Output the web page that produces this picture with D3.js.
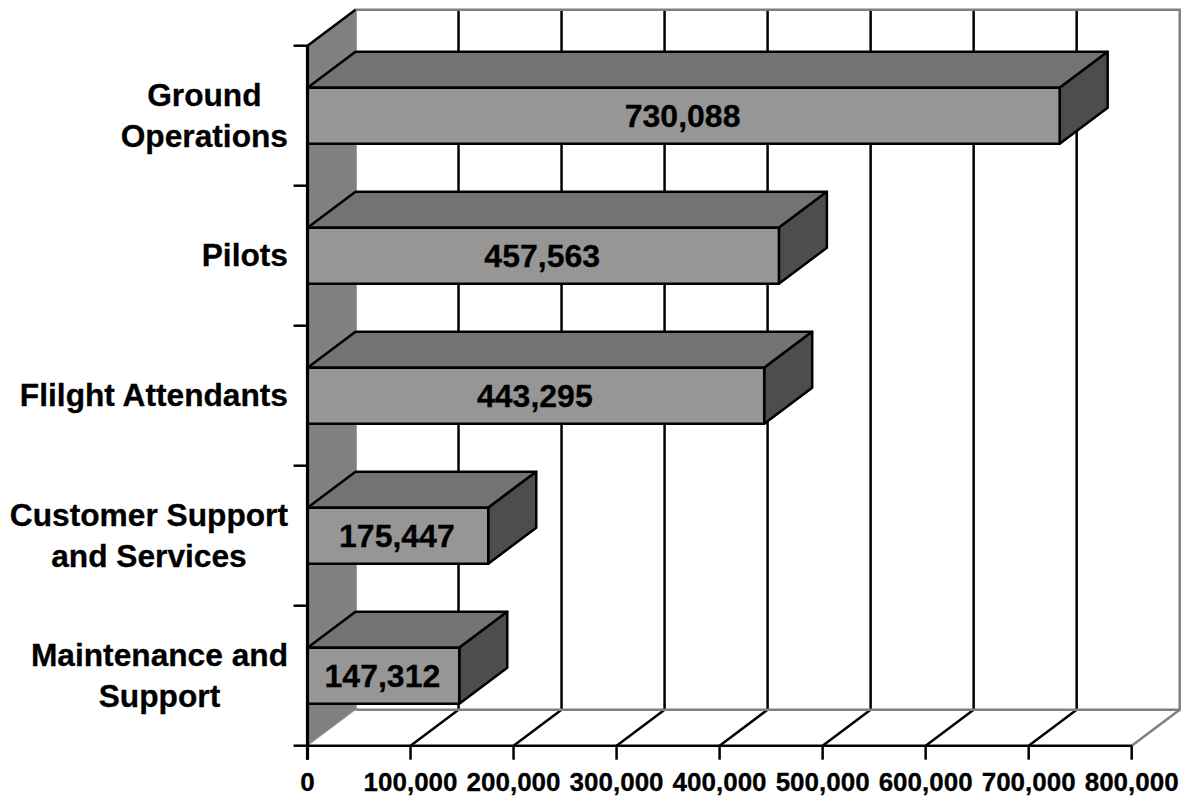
<!DOCTYPE html>
<html>
<head>
<meta charset="utf-8">
<script src="https://cdnjs.cloudflare.com/ajax/libs/d3/7.8.5/d3.min.js"></script>
<style>
html, body { margin: 0; padding: 0; background: #fff; }
svg { display: block; }
text { font-family: "Liberation Sans", Arial, sans-serif; font-weight: bold; fill: #000; stroke: #000; stroke-width: 0.3px; }
</style>
</head>
<body>
<svg id="chart" width="1185" height="798"></svg>
<script>
// Workforce head counts by employee group
const categories = ["Ground Operations", "Pilots", "Flilght Attendants", "Customer Support and Services", "Maintenance and Support"];
const categoryLines = [["Ground", "Operations"], ["Pilots"], ["Flilght Attendants"], ["Customer Support", "and Services"], ["Maintenance and", "Support"]];
const values = [730088, 457563, 443295, 175447, 147312];
const tickValues = [0, 100000, 200000, 300000, 400000, 500000, 600000, 700000, 800000];

const svg = d3.select("#chart");
const plotLeft = 307.5, plotRight = 1131.7, plotTop = 45.7, plotBottom = 745.7;
const depthX = 48, depthY = 36;
const wallColor = "#808080", frontColor = "#969696", topColor = "#737373", sideColor = "#4d4d4d", rimColor = "#808080";
const ink = 2.5;

const x = d3.scaleLinear().domain([0, 800000]).range([plotLeft, plotRight]);
const y = d3.scaleBand().domain(categories).range([plotTop, plotBottom]).paddingInner(0.6).paddingOuter(0.3);
const slots = d3.range(categories.length + 1).map(i => plotTop + i * y.step());
const fmt = d3.format(",");
const line = (x1, y1, x2, y2, stroke, width) =>
  svg.append("line").attr("x1", x1).attr("y1", y1).attr("x2", x2).attr("y2", y2)
    .attr("stroke", stroke).attr("stroke-width", width);
const poly = (pts, fill) =>
  svg.append("polygon").attr("points", pts.map(p => p.join(",")).join(" "))
    .attr("fill", fill).attr("stroke", "#000").attr("stroke-width", ink).attr("stroke-linejoin", "round");

// Left side wall of the box
svg.append("polygon")
  .attr("points", [[plotLeft, plotTop], [plotLeft + depthX, plotTop - depthY], [plotLeft + depthX, plotBottom - depthY], [plotLeft, plotBottom]].map(p => p.join(",")).join(" "))
  .attr("fill", wallColor);

// Back-wall and floor grid lines
tickValues.slice(1, -1).forEach(v => {
  line(x(v) + depthX, plotTop - depthY, x(v) + depthX, plotBottom - depthY, "#000", ink);
  line(x(v), plotBottom, x(v) + depthX, plotBottom - depthY, "#000", ink);
});

// Grey outline of the back wall and floor
svg.append("path")
  .attr("d", `M${plotLeft + depthX},${plotBottom - depthY}V${plotTop - depthY}H${plotRight + depthX}V${plotBottom - depthY}H${plotLeft + depthX}M${plotRight + depthX},${plotBottom - depthY}L${plotRight},${plotBottom}`)
  .attr("fill", "none").attr("stroke", rimColor).attr("stroke-width", ink);
line(plotLeft, plotBottom, plotLeft + depthX, plotBottom - depthY, "#a0a0a0", 1);

// Wall's upper edge and category ticks
line(plotLeft, plotTop, plotLeft + depthX, plotTop - depthY, "#000", ink);
slots.forEach(s => line(plotLeft - 14, s, plotLeft, s, "#000", ink));

// Value axis
line(plotLeft, plotBottom, plotRight, plotBottom, "#000", ink);
tickValues.forEach(v => line(x(v), plotBottom, x(v), plotBottom + 14, "#000", ink));
svg.selectAll(".tick-label").data(tickValues).join("text")
  .attr("class", "tick-label")
  .attr("x", d => x(d)).attr("y", 791)
  .attr("text-anchor", "middle").attr("font-size", 26)
  .text(d => fmt(d));

// Extruded bars: top, side, front
categories.forEach((c, i) => {
  const x0 = x(0), x1 = x(values[i]), y0 = y(c), y1 = y0 + y.bandwidth();
  poly([[x0, y0], [x0 + depthX, y0 - depthY], [x1 + depthX, y0 - depthY], [x1, y0]], topColor);
  poly([[x1, y0], [x1 + depthX, y0 - depthY], [x1 + depthX, y1 - depthY], [x1, y1]], sideColor);
  poly([[x0, y0], [x1, y0], [x1, y1], [x0, y1]], frontColor);
  svg.append("text")
    .attr("x", (x0 + x1) / 2 - 1).attr("y", (y0 + y1) / 2 + 11.5)
    .attr("text-anchor", "middle").attr("font-size", 32)
    .text(fmt(values[i]));
});

// Category axis drawn last so it stays heavy over the bar ends
line(plotLeft, plotTop, plotLeft, plotBottom + 14, "#000", 3.2);

// Category labels: right-aligned blocks with centred lines
categories.forEach((c, i) => {
  const mid = y(c) + y.bandwidth() / 2;
  const g = svg.append("g");
  const lines = categoryLines[i];
  const texts = lines.map((t, j) =>
    g.append("text")
      .attr("y", mid + 10.5 + (j - (lines.length - 1) / 2) * 41)
      .attr("font-size", 31.7).attr("text-anchor", "middle").text(t));
  const w = d3.max(texts, t => t.node().getComputedTextLength());
  texts.forEach(t => t.attr("x", 288 - w / 2));
});
</script>
</body>
</html>
